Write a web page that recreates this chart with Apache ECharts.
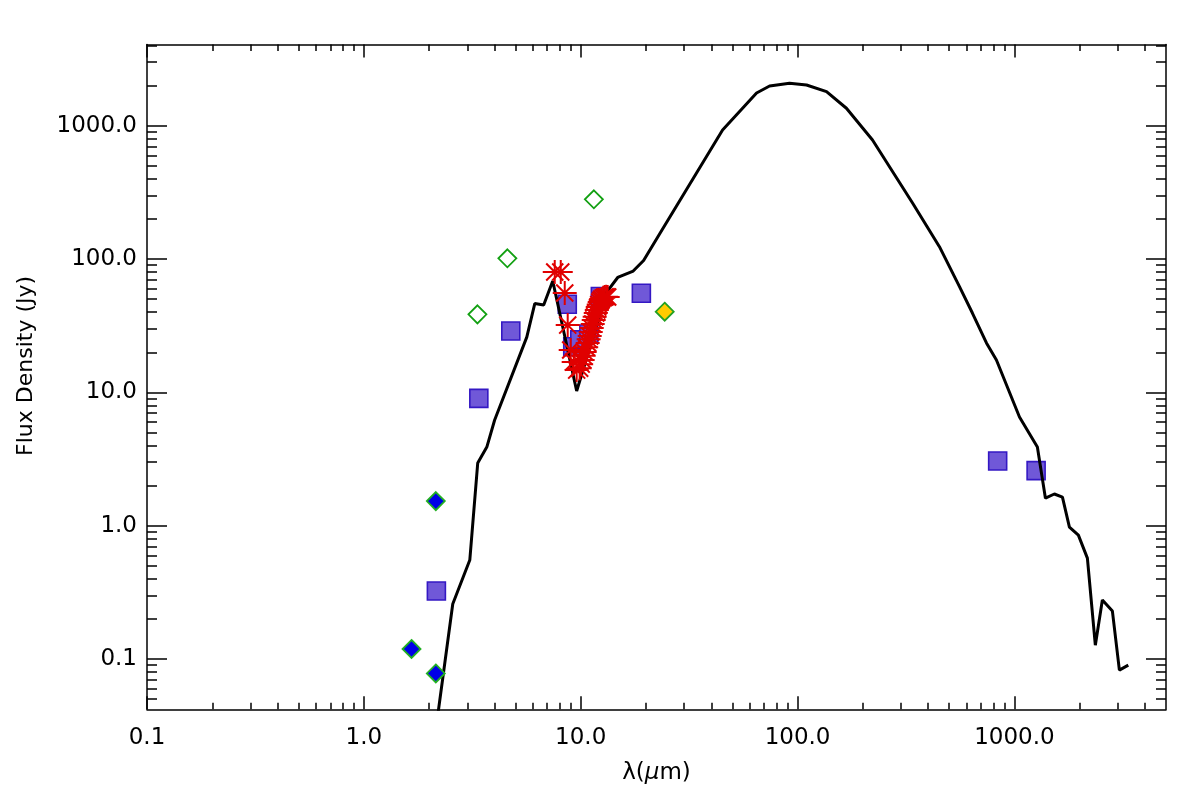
<!DOCTYPE html>
<html>
<head>
<meta charset="utf-8">
<script src="https://cdn.jsdelivr.net/npm/echarts@6/dist/echarts.min.js"></script>
<style>
  html, body { margin: 0; padding: 0; background: #fff; }
  #chart { width: 1177px; height: 797px; }
</style>
</head>
<body>
<div id="chart"></div>
<script>
// model SED (black curve)
const modelWave = [2.15, 2.57, 3.08, 3.35, 3.69, 4.01, 5.64, 6.14, 6.75, 7.43, 9.58, 13.18, 14.81, 17.46, 19.5, 23.1, 45.1, 64.7, 74.3, 91.8, 110, 136, 168, 221.6, 339, 451, 558, 640, 743, 826, 1055, 1276, 1390, 1528, 1665, 1793, 1972, 2170, 2361, 2544, 2830, 3048, 3350];
const modelFlux = [0.03, 0.259, 0.553, 2.95, 3.89, 6.21, 26.0, 46.4, 45.2, 68.5, 10.25, 56.6, 72.8, 81.4, 97.6, 154, 930, 1762, 1989, 2083, 2023, 1803, 1353, 783, 263.6, 123.9, 62.1, 39.4, 23.5, 17.5, 6.54, 3.89, 1.61, 1.73, 1.64, 0.977, 0.851, 0.572, 0.127, 0.277, 0.229, 0.0827, 0.090];

// photometry (purple squares)
const photWave = [2.16, 3.39, 4.76, 8.67, 9.19, 9.90, 10.9, 12.32, 19.04, 837, 1259];
const photFlux = [0.324, 9.03, 28.9, 45.8, 22.0, 24.8, 27.4, 52.4, 55.4, 3.06, 2.59];

// open green diamonds
const openWave = [3.34, 4.59, 11.5];
const openFlux = [38.5, 101.4, 281];

// filled blue diamonds
const nirWave = [1.659, 2.147, 2.147];
const nirFlux = [0.119, 1.53, 0.078];

// yellow diamond
const yelWave = [24.4];
const yelFlux = [40.3];

// spectrum (red asterisks)
const specWave = [7.59, 8.09, 8.44, 8.71, 8.99, 9.28, 9.58, 9.89, 10.05, 10.21, 10.32, 10.43, 10.60, 10.77, 10.88, 11.00, 11.12, 11.24, 11.36, 11.48, 11.60, 11.73, 11.86, 11.98, 12.11, 12.24, 12.37, 12.50, 12.70, 12.90, 13.10, 13.32];
const specFlux = [80.0, 80.0, 55.7, 32.0, 20.8, 16.9, 14.7, 15.2, 16.3, 17.5, 18.8, 20.1, 21.8, 23.5, 25.0, 26.5, 28.4, 30.4, 32.6, 34.9, 37.0, 39.4, 41.5, 43.7, 45.6, 47.6, 49.0, 50.2, 51.2, 52.0, 52.3, 52.0];

const xMajor = [0.1, 1, 10, 100, 1000];
const yMajor = [0.1, 1, 10, 100, 1000];
const xRange = [0.1, 5000];
const yRange = [0.042, 4070];

function minorTicks(range) {
  const out = [];
  for (let e = -3; e <= 5; e++) {
    for (let m = 2; m <= 9; m++) {
      const v = m * Math.pow(10, e);
      if (v > range[0] && v < range[1]) out.push(v);
    }
  }
  return out;
}

const pairs = (xs, ys) => xs.map((x, i) => [x, ys[i]]);

const FONT = "DejaVu Sans";
const AXIS_COLOR = "#000";

function makeAxis(kind, position, range, ticks, len, withLine, withLabels) {
  const ax = {
    type: "log",
    position: position,
    min: range[0],
    max: range[1],
    axisLine: { show: withLine, onZero: false, lineStyle: { color: AXIS_COLOR, width: 1.5 } },
    axisTick: { show: true, inside: true, length: len, customValues: ticks, lineStyle: { color: AXIS_COLOR, width: 1.5 } },
    axisLabel: { show: false },
    splitLine: { show: false },
    minorTick: { show: false },
  };
  if (withLabels) {
    ax.axisLabel = {
      show: true,
      customValues: ticks,
      formatter: (v) => Number(v).toFixed(1),
      color: "#000",
      fontFamily: FONT,
      fontSize: 23,
      margin: kind === "x" ? 17 : 10,
    };
  }
  return ax;
}

const xMinor = minorTicks(xRange);
const yMinor = minorTicks(yRange);

const xBottom = makeAxis("x", "bottom", xRange, xMajor, 13, true, true);
xBottom.name = "λ({mu|μ}m)";
xBottom.nameLocation = "middle";
xBottom.nameGap = 52;
xBottom.nameTextStyle = {
  color: "#000", fontFamily: FONT, fontSize: 23,
  rich: { mu: { fontFamily: FONT, fontSize: 23, fontStyle: "italic", color: "#000" } },
};

const yLeft = makeAxis("y", "left", yRange, yMajor, 20, true, true);
yLeft.name = "Flux Density (Jy)";
yLeft.nameLocation = "middle";
yLeft.nameGap = 110;
yLeft.nameTextStyle = { color: "#000", fontFamily: FONT, fontSize: 22, padding: [0, 0, 0, 22] };

const chart = echarts.init(document.getElementById("chart"));

chart.setOption({
  backgroundColor: "#fff",
  animation: false,
  grid: { left: 147, right: 11, top: 44.5, bottom: 87.7, containLabel: false },
  xAxis: [
    xBottom,
    makeAxis("x", "bottom", xRange, xMinor, 6.5, false, false),
    makeAxis("x", "top", xRange, xMajor, 13, true, false),
    makeAxis("x", "top", xRange, xMinor, 6.5, false, false),
  ],
  yAxis: [
    yLeft,
    makeAxis("y", "left", yRange, yMinor, 10, false, false),
    makeAxis("y", "right", yRange, yMajor, 20, true, false),
    makeAxis("y", "right", yRange, yMinor, 10, false, false),
  ],
  series: [
    {
      name: "photometry",
      type: "scatter",
      data: pairs(photWave, photFlux),
      symbol: "rect",
      symbolSize: 18,
      itemStyle: { color: "#7058d8", borderColor: "#3418c4", borderWidth: 1.6, opacity: 1 },
      z: 2,
    },
    {
      name: "model",
      type: "line",
      data: pairs(modelWave, modelFlux),
      showSymbol: false,
      symbol: "none",
      lineStyle: { color: "#000", width: 3 },
      clip: true,
      z: 3,
    },
    {
      name: "open",
      type: "scatter",
      data: pairs(openWave, openFlux),
      symbol: "diamond",
      symbolSize: 18,
      itemStyle: { color: "#fff", borderColor: "#12a012", borderWidth: 1.8, opacity: 1 },
      z: 4,
    },
    {
      name: "nir",
      type: "scatter",
      data: pairs(nirWave, nirFlux),
      symbol: "diamond",
      symbolSize: 18,
      itemStyle: { color: "#0000e6", borderColor: "#22b022", borderWidth: 1.8, opacity: 1 },
      z: 4,
    },
    {
      name: "yellow",
      type: "scatter",
      data: pairs(yelWave, yelFlux),
      symbol: "diamond",
      symbolSize: 18,
      itemStyle: { color: "#ffcc00", borderColor: "#22a022", borderWidth: 1.8, opacity: 1 },
      z: 4,
    },
    {
      name: "spectrum",
      type: "scatter",
      data: pairs(specWave, specFlux),
      symbol: "path://M10 0 L10 20 M0 10 L20 10 M2.9 2.9 L17.1 17.1 M2.9 17.1 L17.1 2.9",
      symbolSize: 24,
      itemStyle: { color: "none", borderColor: "#e00000", borderWidth: 2, opacity: 1 },
      z: 5,
    },
  ],
});
</script>
</body>
</html>
